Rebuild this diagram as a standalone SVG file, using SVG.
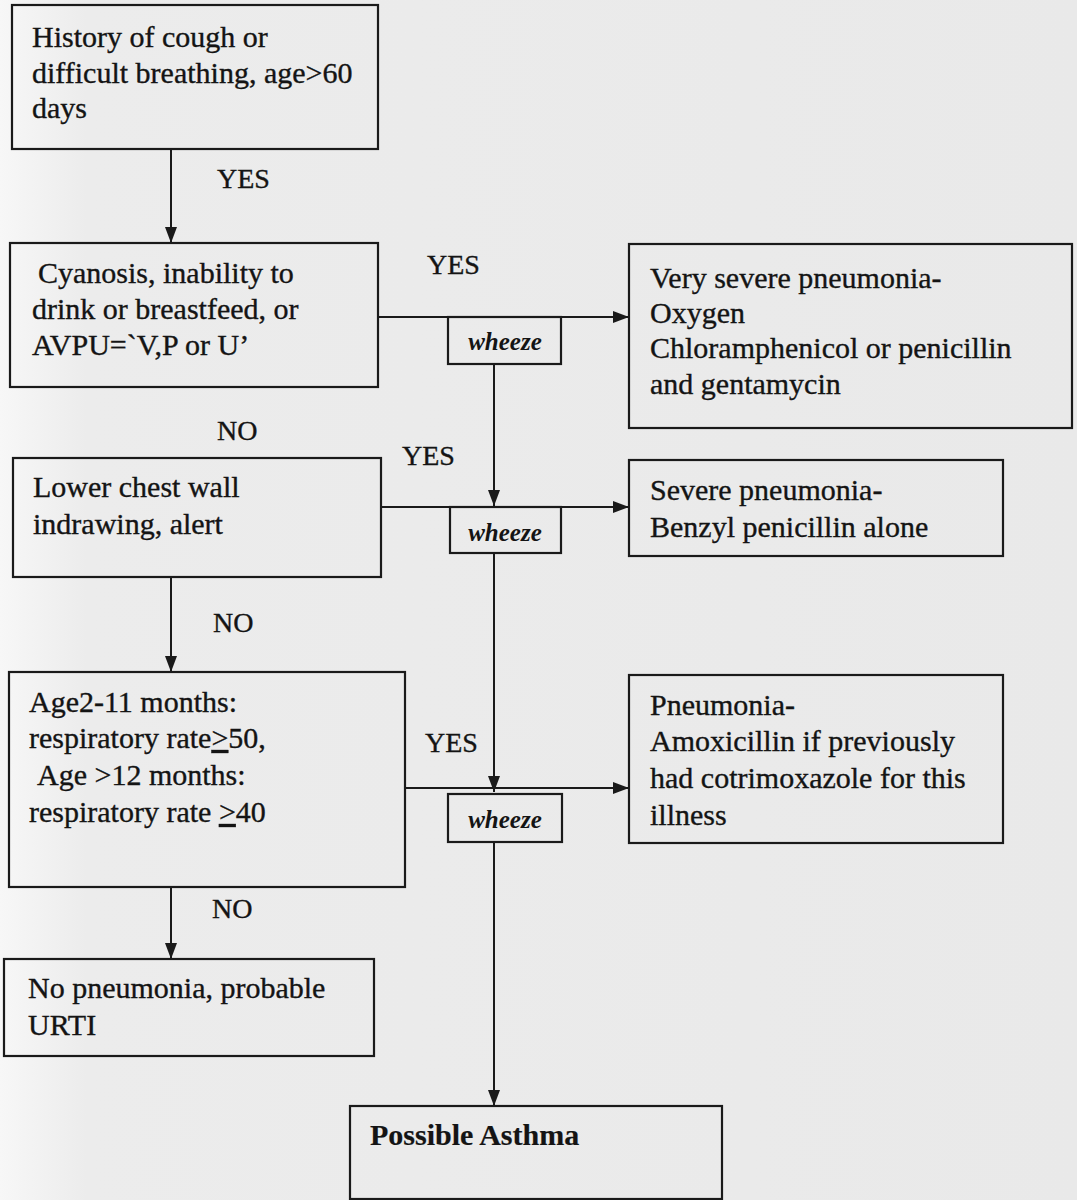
<svg xmlns="http://www.w3.org/2000/svg" width="1077" height="1200" viewBox="0 0 1077 1200">
  <defs>
    <linearGradient id="bg" x1="0" y1="0" x2="1" y2="0">
      <stop offset="0" stop-color="#f7f7f7"/>
      <stop offset="0.08" stop-color="#ececec"/>
      <stop offset="1" stop-color="#e9e9e9"/>
    </linearGradient>
    <marker id="arr" viewBox="0 0 16 12" refX="16" refY="6" markerWidth="16" markerHeight="12" markerUnits="userSpaceOnUse" orient="auto">
      <path d="M0,0 L16,6 L0,12 Z" fill="#1a1a1a"/>
    </marker>
    <style>
      .box { fill: none; stroke: #1a1a1a; stroke-width: 2.2; }
      .t { font-family: "Liberation Serif", "Times New Roman", serif; font-size: 30px; fill: #141414; stroke: #141414; stroke-width: 0.35; }
      .lbl { font-family: "Liberation Serif", "Times New Roman", serif; font-size: 28px; fill: #141414; stroke: #141414; stroke-width: 0.35; }
      .wz { font-family: "Liberation Serif", "Times New Roman", serif; font-size: 25px; font-weight: bold; font-style: italic; fill: #141414; text-anchor: middle; }
      .b { font-weight: bold; stroke-width: 0.2; }
      .c { fill: none; stroke: #1a1a1a; stroke-width: 2; }
    </style>
  </defs>
  <rect x="0" y="0" width="1077" height="1200" fill="url(#bg)"/>

  <g id="connectors">
    <line class="c" x1="171" y1="149" x2="171" y2="243" marker-end="url(#arr)"/>
    <line class="c" x1="378" y1="317" x2="629" y2="317" marker-end="url(#arr)"/>
    <line class="c" x1="494" y1="364" x2="494" y2="506" marker-end="url(#arr)"/>
    <line class="c" x1="381" y1="507" x2="629" y2="507" marker-end="url(#arr)"/>
    <line class="c" x1="171" y1="577" x2="171" y2="672" marker-end="url(#arr)"/>
    <line class="c" x1="494" y1="553" x2="494" y2="792" marker-end="url(#arr)"/>
    <line class="c" x1="405" y1="788" x2="629" y2="788" marker-end="url(#arr)"/>
    <line class="c" x1="171" y1="887" x2="171" y2="959" marker-end="url(#arr)"/>
    <line class="c" x1="494" y1="842" x2="494" y2="1106" marker-end="url(#arr)"/>
    <text class="lbl" x="217" y="188">YES</text>
    <text class="lbl" x="427" y="274">YES</text>
    <text class="lbl" x="217" y="440">NO</text>
    <text class="lbl" x="402" y="465">YES</text>
    <text class="lbl" x="213" y="632">NO</text>
    <text class="lbl" x="425" y="752">YES</text>
    <text class="lbl" x="212" y="918">NO</text>
  </g>

  <g id="n-history">
    <rect class="box" x="12" y="5" width="366" height="144"/>
    <text class="t" x="32" y="47">History of cough or</text>
    <text class="t" x="32" y="83">difficult breathing, age&gt;60</text>
    <text class="t" x="32" y="118">days</text>
  </g>

  <g id="n-cyanosis">
    <rect class="box" x="10" y="243" width="368" height="144"/>
    <text class="t" x="38" y="283">Cyanosis, inability to</text>
    <text class="t" x="32" y="319">drink or breastfeed, or</text>
    <text class="t" x="32" y="355">AVPU=`V,P or U’</text>
  </g>

  <g id="n-wheeze1">
    <rect class="box" x="448" y="317" width="113" height="47"/>
    <text class="wz" x="505" y="350">wheeze</text>
  </g>

  <g id="n-very-severe">
    <rect class="box" x="629" y="244" width="443" height="184"/>
    <text class="t" x="650" y="288">Very severe pneumonia-</text>
    <text class="t" x="650" y="323">Oxygen</text>
    <text class="t" x="650" y="358">Chloramphenicol or penicillin</text>
    <text class="t" x="650" y="394">and gentamycin</text>
  </g>

  <g id="n-lower-chest">
    <rect class="box" x="13" y="458" width="368" height="119"/>
    <text class="t" x="33" y="497">Lower chest wall</text>
    <text class="t" x="33" y="534">indrawing, alert</text>
  </g>

  <g id="n-wheeze2">
    <rect class="box" x="450" y="507" width="111" height="46"/>
    <text class="wz" x="505" y="541">wheeze</text>
  </g>

  <g id="n-severe">
    <rect class="box" x="629" y="460" width="374" height="96"/>
    <text class="t" x="650" y="500">Severe pneumonia-</text>
    <text class="t" x="650" y="537">Benzyl penicillin alone</text>
  </g>

  <g id="n-age">
    <rect class="box" x="9" y="672" width="396" height="215"/>
    <text class="t" x="29" y="712">Age2-11 months:</text>
    <text class="t" x="29" y="748">respiratory rate<tspan text-decoration="underline">&gt;</tspan>50,</text>
    <text class="t" x="29" y="785"> <tspan x="37">Age &gt;12 months:</tspan></text>
    <text class="t" x="29" y="822">respiratory rate <tspan text-decoration="underline">&gt;</tspan>40</text>
  </g>

  <g id="n-wheeze3">
    <rect class="box" x="448" y="794" width="114" height="48"/>
    <text class="wz" x="505" y="828">wheeze</text>
  </g>

  <g id="n-pneumonia">
    <rect class="box" x="629" y="675" width="374" height="168"/>
    <text class="t" x="650" y="715">Pneumonia-</text>
    <text class="t" x="650" y="751">Amoxicillin if previously</text>
    <text class="t" x="650" y="788">had cotrimoxazole for this</text>
    <text class="t" x="650" y="825">illness</text>
  </g>

  <g id="n-no-pneumonia">
    <rect class="box" x="4" y="959" width="370" height="97"/>
    <text class="t" x="28" y="998">No pneumonia, probable</text>
    <text class="t" x="28" y="1035">URTI</text>
  </g>

  <g id="n-asthma">
    <rect class="box" x="350" y="1106" width="372" height="93"/>
    <text class="t b" x="370" y="1145">Possible Asthma</text>
  </g>
</svg>
